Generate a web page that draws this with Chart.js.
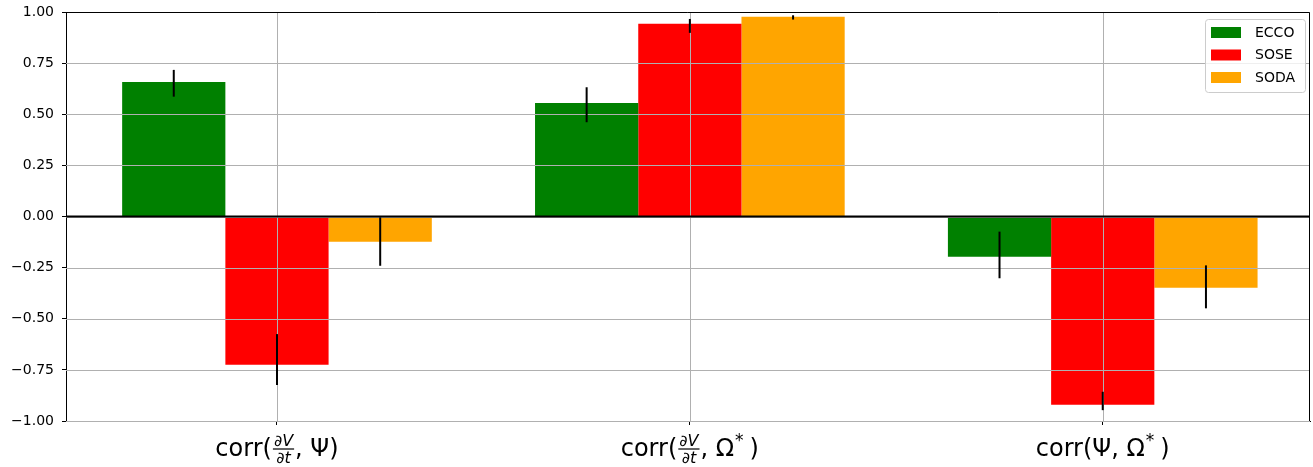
<!DOCTYPE html>
<html>
<head>
<meta charset="utf-8">
<script src="https://cdn.jsdelivr.net/npm/chart.js@4.4.1/dist/chart.umd.min.js"></script>
<style>
  html, body { margin: 0; padding: 0; background: #ffffff; }
  canvas { display: block; }
</style>
</head>
<body>
<canvas id="chart" width="1313" height="467"></canvas>
<script>
// Correlation categories (fractions written as a/b, "*" is a superscript)
const categories = ['corr(∂V/∂t, Ψ)', 'corr(∂V/∂t, Ω*)', 'corr(Ψ, Ω*)'];

// Series names and colours
const seriesNames = ['ECCO', 'SOSE', 'SODA'];
const seriesColors = ['#008000', '#ff0000', '#ffa500'];

// Correlation values per category
const eccoValues = [0.658, 0.555, -0.197];
const soseValues = [-0.725, 0.942, -0.921];
const sodaValues = [-0.123, 0.977, -0.348];

// Uncertainty ranges [low, high] per category
const eccoRange = [[0.586, 0.717], [0.461, 0.632], [-0.302, -0.074]];
const soseRange = [[-0.824, -0.575], [0.898, 0.966], [-0.947, -0.857]];
const sodaRange = [[-0.241, -0.004], [0.963, 0.984], [-0.449, -0.239]];

// Y axis ticks
const yTickValues = [-1, -0.75, -0.5, -0.25, 0, 0.25, 0.5, 0.75, 1];

const seriesValues = [eccoValues, soseValues, sodaValues];
const seriesRanges = [eccoRange, soseRange, sodaRange];

const FONT = '"DejaVu Sans", "Liberation Sans", sans-serif';
const GRID = '#b0b0b0';

const datasets = seriesNames.map((name, s) => ({
  label: name,
  data: seriesValues[s].map((v, i) => ({ x: i, y: v })),
  backgroundColor: seriesColors[s],
  borderWidth: 0,
  categoryPercentage: 0.75,
  barPercentage: 1.0,
  errRange: seriesRanges[s]
}));

// Grid drawn over the bars, zero line, error bars and the closing frame
const overlayPlugin = {
  id: 'overlay',
  afterDatasetsDraw(chart) {
    const { ctx, chartArea: a, scales: { x, y } } = chart;
    ctx.save();
    ctx.strokeStyle = GRID;
    ctx.lineWidth = 1;
    x.ticks.forEach((t) => {
      const px = Math.round(x.getPixelForValue(t.value)) + 0.5;
      ctx.beginPath(); ctx.moveTo(px, a.top); ctx.lineTo(px, a.bottom); ctx.stroke();
    });
    y.ticks.forEach((t) => {
      const py = Math.round(y.getPixelForValue(t.value)) + 0.5;
      ctx.beginPath(); ctx.moveTo(a.left, py); ctx.lineTo(a.right, py); ctx.stroke();
    });
    // zero line
    const y0 = y.getPixelForValue(0);
    ctx.strokeStyle = '#000000';
    ctx.lineWidth = 2;
    ctx.beginPath(); ctx.moveTo(a.left, y0); ctx.lineTo(a.right, y0); ctx.stroke();
    // error bars
    chart.data.datasets.forEach((ds, di) => {
      const meta = chart.getDatasetMeta(di);
      meta.data.forEach((bar, i) => {
        const r = ds.errRange[i];
        ctx.beginPath();
        ctx.moveTo(bar.x, y.getPixelForValue(r[0]));
        ctx.lineTo(bar.x, y.getPixelForValue(r[1]));
        ctx.strokeStyle = '#000000';
        ctx.lineWidth = 2;
        ctx.stroke();
      });
    });
    // top and right frame
    ctx.strokeStyle = '#000000';
    ctx.lineWidth = 1;
    ctx.beginPath();
    ctx.moveTo(a.left, a.top + 0.5); ctx.lineTo(a.right - 0.5, a.top + 0.5); ctx.lineTo(a.right - 0.5, a.bottom);
    ctx.stroke();
    ctx.restore();
  },
  afterDraw(chart) {
    const { ctx, scales: { x } } = chart;
    ctx.save();
    categories.forEach((label, i) => {
      drawMathLabel(ctx, label, x.getPixelForValue(i), 456);
    });
    drawLegend(chart);
    ctx.restore();
  }
};

// Split a label into plain text, fraction and superscript pieces
function parseLabel(label) {
  const out = [];
  const re = /(∂\w)\/(∂\w)|\*/g;
  let last = 0, m;
  while ((m = re.exec(label))) {
    if (m.index > last) out.push({ t: 'text', s: label.slice(last, m.index) });
    if (m[0] === '*') out.push({ t: 'sup', s: '*' });
    else out.push({ t: 'frac', num: m[1], den: m[2] });
    last = re.lastIndex;
  }
  if (last < label.length) out.push({ t: 'text', s: label.slice(last) });
  return out;
}

const MAIN = '24px ' + FONT;
const SMALL = 'italic 16px ' + FONT;
const SUP = '17px ' + FONT;

function segWidth(ctx, seg) {
  if (seg.t === 'text') { ctx.font = MAIN; return ctx.measureText(seg.s).width; }
  if (seg.t === 'sup') { ctx.font = SUP; return ctx.measureText(seg.s).width + 7; }
  ctx.font = SMALL;
  return Math.max(ctx.measureText(seg.num).width, ctx.measureText(seg.den).width) + 4;
}

function drawMathLabel(ctx, label, cx, base) {
  const segs = parseLabel(label);
  const total = segs.reduce((w, s) => w + segWidth(ctx, s), 0);
  let xPos = cx - total / 2;
  ctx.fillStyle = '#000000';
  ctx.textBaseline = 'alphabetic';
  segs.forEach((seg) => {
    const w = segWidth(ctx, seg);
    if (seg.t === 'text') {
      ctx.font = MAIN; ctx.textAlign = 'left';
      ctx.fillText(seg.s, xPos, base);
    } else if (seg.t === 'sup') {
      ctx.font = SUP; ctx.textAlign = 'left';
      ctx.fillText(seg.s, xPos + 1, base - 10);
    } else {
      const mid = xPos + w / 2;
      const barY = base - 7;
      ctx.font = SMALL; ctx.textAlign = 'center';
      ctx.fillText(seg.num, mid, barY - 3);
      ctx.fillText(seg.den, mid, barY + 14);
      ctx.fillRect(xPos + 1, barY - 0.6, w - 2, 1.2);
    }
    xPos += w;
  });
}

// Legend box in the upper right of the plot
function drawLegend(chart) {
  const { ctx } = chart;
  const bx = 1205, by = 19, bw = 100, bh = 73;
  ctx.fillStyle = 'rgba(255,255,255,0.8)';
  ctx.strokeStyle = '#cccccc';
  ctx.lineWidth = 1;
  ctx.beginPath();
  ctx.roundRect(bx + 0.5, by + 0.5, bw, bh, 3);
  ctx.fill(); ctx.stroke();
  chart.data.datasets.forEach((ds, i) => {
    const cy = 32.5 + i * 22.5;
    ctx.fillStyle = ds.backgroundColor;
    ctx.fillRect(1211, cy - 5.5, 30, 11);
    ctx.fillStyle = '#000000';
    ctx.font = '14px ' + FONT;
    ctx.textAlign = 'left';
    ctx.textBaseline = 'middle';
    ctx.fillText(ds.label, 1255, cy + 0.5);
  });
}

new Chart(document.getElementById('chart'), {
  type: 'bar',
  data: { datasets },
  options: {
    responsive: false,
    animation: false,
    devicePixelRatio: 1,
    layout: { padding: { top: 12, right: 3, bottom: 0, left: 0 } },
    plugins: { legend: { display: false }, tooltip: { enabled: false } },
    scales: {
      x: {
        type: 'linear',
        min: -0.511,
        max: 2.502,
        bounds: 'data',
        offset: false,
        grid: { offset: false, drawOnChartArea: false, drawTicks: true, tickLength: 4, tickColor: '#000000', tickWidth: 1 },
        border: { display: true, color: '#000000', width: 1 },
        ticks: { display: false, stepSize: 1 },
        afterBuildTicks(scale) { scale.ticks = categories.map((c, i) => ({ value: i })); },
        afterFit(scale) {
          scale.height = 46;
          scale.paddingLeft = 0; scale.paddingRight = 0;
        }
      },
      y: {
        min: -1,
        max: 1,
        grid: { drawOnChartArea: false, drawTicks: true, tickLength: 4, tickColor: '#000000', tickWidth: 1 },
        border: { display: true, color: '#000000', width: 1 },
        ticks: {
          color: '#000000',
          font: { family: FONT, size: 14 },
          padding: 8,
          callback: (v) => v.toFixed(2).replace('-', '\u2212')
        },
        afterBuildTicks(scale) { scale.ticks = yTickValues.map((v) => ({ value: v })); },
        afterFit(scale) {
          scale.width = 66;
          scale.paddingTop = 0; scale.paddingBottom = 0;
        }
      }
    }
  },
  plugins: [overlayPlugin]
});
</script>
</body>
</html>
